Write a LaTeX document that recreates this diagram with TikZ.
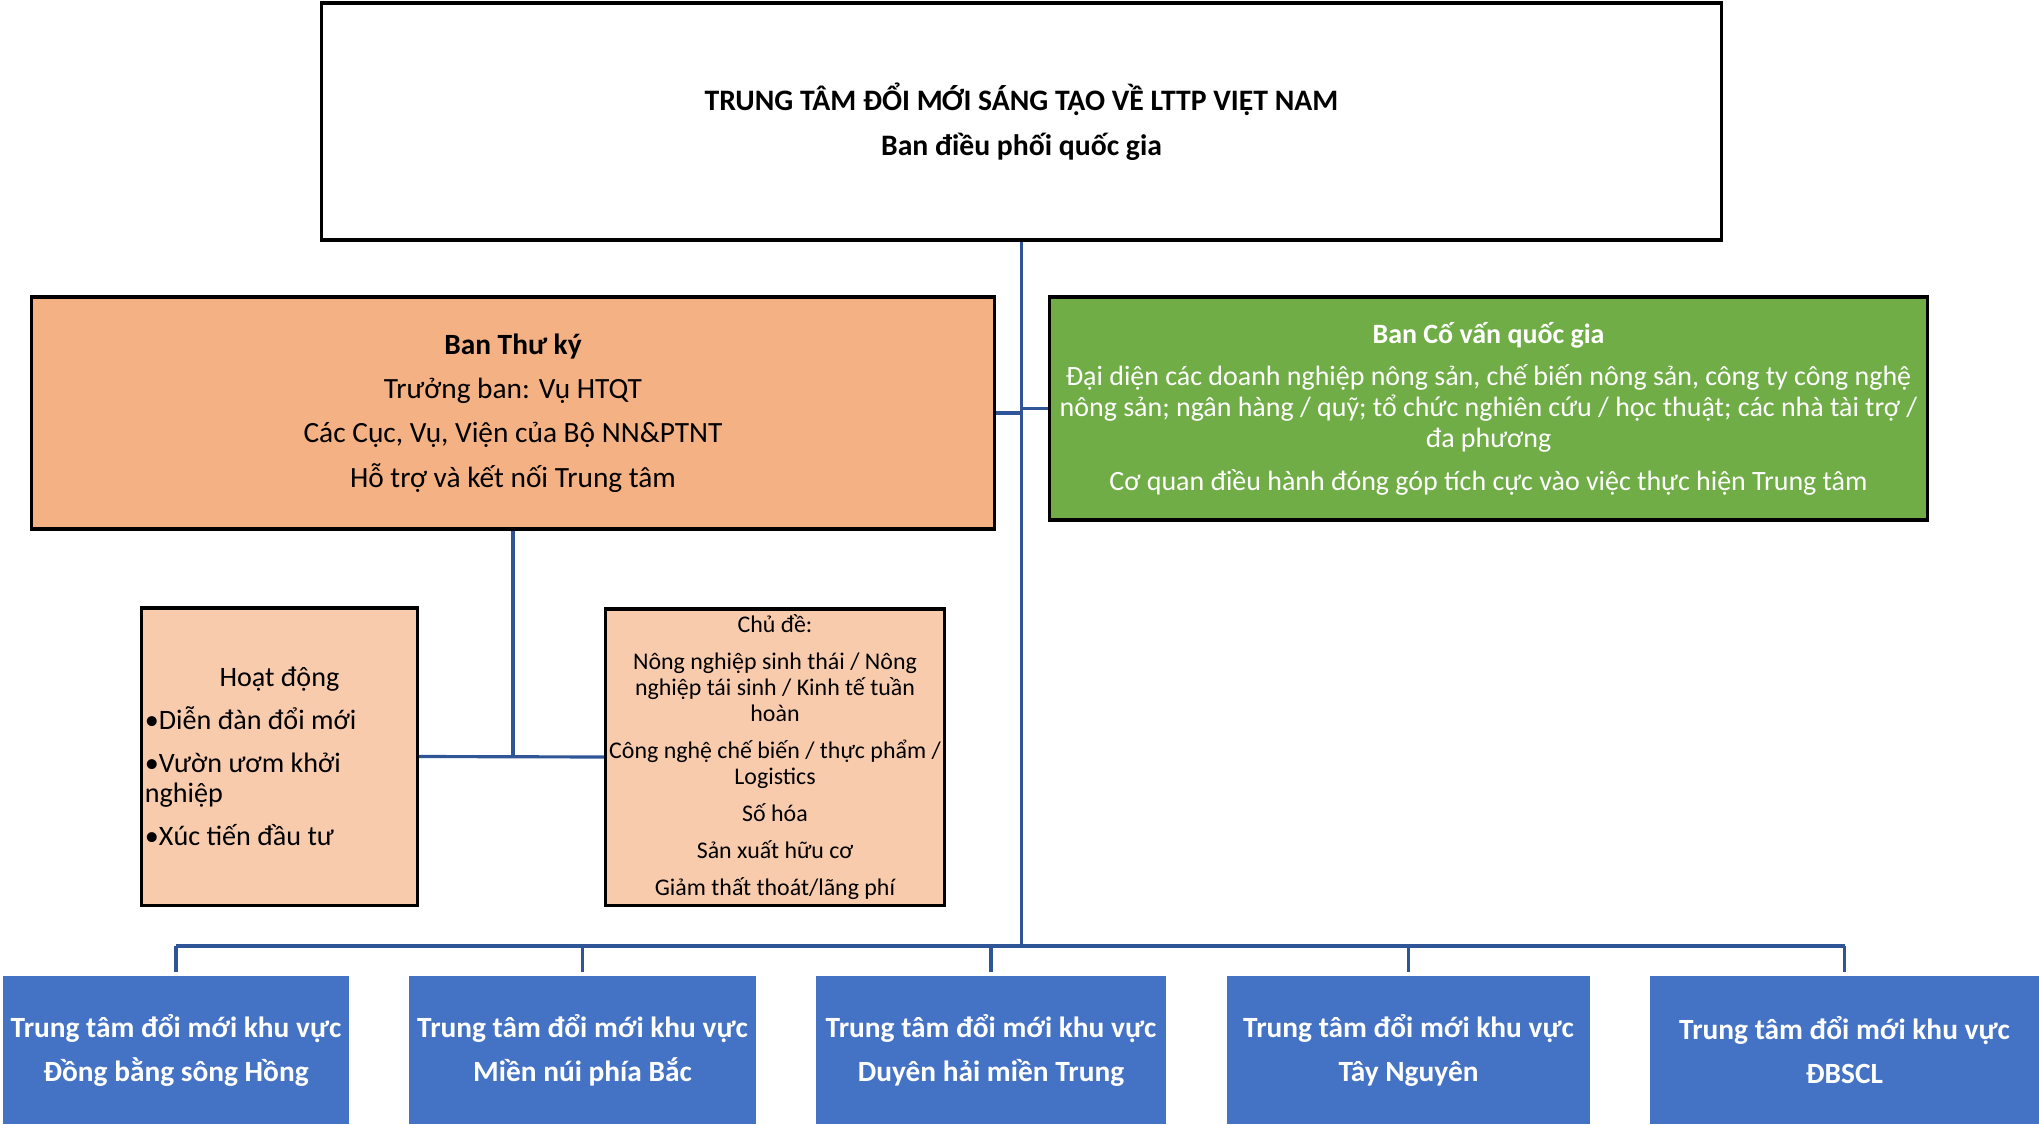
\documentclass[tikz,border=0pt]{standalone}
\usepackage{fontspec}
\setmainfont{Carlito}
\usetikzlibrary{positioning}
\usetikzlibrary{calc}
\definecolor{orgblue}{HTML}{4472C4}
\definecolor{lineblue}{HTML}{2F5597}
\definecolor{orggreen}{HTML}{70AD47}
\definecolor{peach}{HTML}{F4B183}
\definecolor{lpeach}{HTML}{F8CBAD}
\tikzset{box/.style={draw=black, line width=0.9pt, align=center, inner sep=1pt}}
\tikzset{reg/.style={fill=orgblue, text=white, align=center, minimum height=1.48cm, inner sep=0pt, font=\fontsize{8.35}{12.5}\selectfont\bfseries}}
\tikzset{lnk/.style={draw=lineblue, line width=0.9pt}}

\begin{document}
\begin{tikzpicture}[x=0.01cm, y=-0.01cm]
\useasboundingbox (0,0) rectangle (2039,1124);

% ban dieu phoi
\node[box, minimum width=13.99cm, minimum height=2.37cm, font=\fontsize{8.45}{12.8}\selectfont\bfseries] (top) at (1021.5,121.5)
 {TRUNG TÂM ĐỔI MỚI SÁNG TẠO VỀ LTTP VIỆT NAM\\Ban điều phối quốc gia};

\node[box, fill=peach, minimum width=9.62cm, minimum height=2.32cm, font=\fontsize{8.35}{8.6}\selectfont] (bty) at (513,413)
 {\textbf{Ban Thư ký}\\[4pt]Trưởng ban: Vụ HTQT\\[4pt]Các Cục, Vụ, Viện của Bộ NN\&PTNT\\[4pt]Hỗ trợ và kết nối Trung tâm};

\node[box, fill=orggreen, text=white, minimum width=8.77cm, minimum height=2.23cm, font=\fontsize{7.95}{8.9}\selectfont] (cvqg) at (1488.5,408.5)
 {\textbf{Ban Cố vấn quốc gia}\\[3.1pt]
 Đại diện các doanh nghiệp nông sản, chế biến nông sản, công ty công nghệ\\
 nông sản; ngân hàng / quỹ; tổ chức nghiên cứu / học thuật; các nhà tài trợ /\\
 đa phương\\[3.1pt]
 Cơ quan điều hành đóng góp tích cực vào việc thực hiện Trung tâm};

\node[box, fill=lpeach, align=flush left, text width=2.69cm, minimum height=2.97cm, font=\fontsize{8}{8.6}\selectfont] (hd) at (279.5,756.5)
 {\makebox[2.69cm]{Hoạt động}\\[3.6pt]•Diễn đàn đổi mới\\[3.6pt]•Vườn ươm khởi\\nghiệp\\[3.6pt]•Xúc tiến đầu tư};

\node[box, fill=lpeach, minimum width=3.36cm, minimum height=2.96cm, font=\fontsize{6.8}{7.4}\selectfont] (cd) at (775,757)
 {Chủ đề:\\[3.1pt]Nông nghiệp sinh thái / Nông\\nghiệp tái sinh / Kinh tế tuần\\hoàn\\[3.1pt]
 Công nghệ chế biến / thực phẩm /\\Logistics\\[3.1pt]Số hóa\\[3.1pt]Sản xuất hữu cơ\\[3.1pt]Giảm thất thoát/lãng phí};

% trung tam khu vuc
\node[reg, minimum width=3.46cm] (r1) at (176,1050) {Trung tâm đổi mới khu vực\\Đồng bằng sông Hồng};
\node[reg, minimum width=3.47cm] (r2) at (582.5,1050) {Trung tâm đổi mới khu vực\\Miền núi phía Bắc};
\node[reg, minimum width=3.50cm] (r3) at (991,1050) {Trung tâm đổi mới khu vực\\Duyên hải miền Trung};
\node[reg, minimum width=3.63cm] (r4) at (1408.5,1050) {Trung tâm đổi mới khu vực\\Tây Nguyên};
\node[reg, minimum width=3.89cm] (r5) at (1844.5,1050) {Trung tâm đổi mới khu vực\\ĐBSCL};

\coordinate (bus) at (1021.5,946);

\draw[lnk] (top.south) -- (bus);
\draw[lnk] (bty.east) -- (bty.east -| top.south);
\draw[lnk] (cvqg.west) -- (cvqg.west -| top.south);
\draw[lnk] (bty.south) -- (bty.south |- hd.east);
\draw[lnk] (hd.east) -- (cd.west);
\draw[lnk] (r1.north |- bus) -- (r5.north |- bus);
\foreach \r in {r1,r2,r3,r4,r5}
 \draw[lnk] (\r.north |- bus) -- ($(\r.north)+(0,-3)$);
\end{tikzpicture}
\end{document}
